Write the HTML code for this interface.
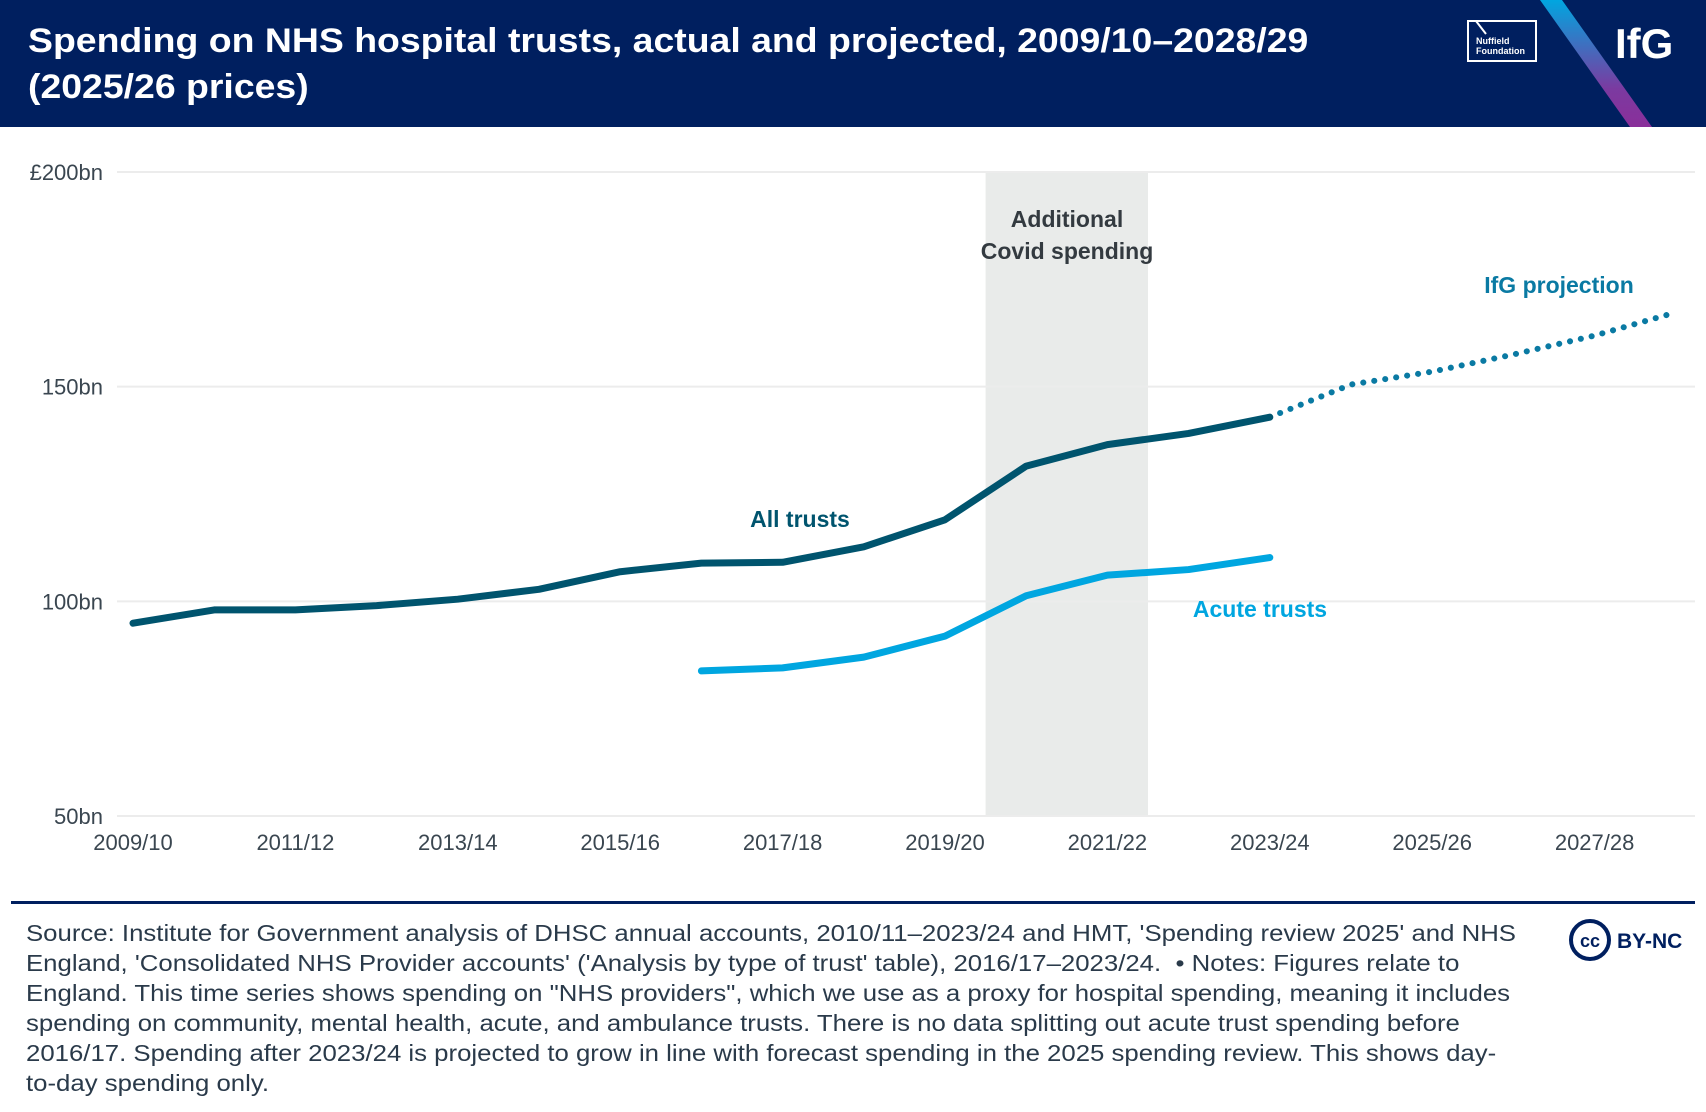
<!DOCTYPE html>
<html><head><meta charset="utf-8"><style>
body{margin:0;width:1706px;height:1112px;background:#fff;font-family:"Liberation Sans","DejaVu Sans",sans-serif;overflow:hidden;position:relative}
.hdr{position:absolute;left:0;top:0;width:1706px;height:127px;background:#001f5f;overflow:hidden}
.title{position:absolute;left:28px;top:18px;color:#fff;font-weight:bold;font-size:34px;line-height:46px;white-space:nowrap;transform:scaleX(1.1);transform-origin:0 0}
.src{position:absolute;left:26px;top:918px;font-size:23px;line-height:30px;color:#2a3a4a;white-space:nowrap;transform:scaleX(1.12);transform-origin:0 0}
</style></head><body>
<div class="hdr">
<div class="title">Spending on NHS hospital trusts, actual and projected, 2009/10–2028/29<br>(2025/26 prices)</div>
<svg width="1706" height="127" style="position:absolute;left:0;top:0">
<defs><linearGradient id="g" x1="0" y1="0" x2="0" y2="1"><stop offset="0" stop-color="#00a6e0"/><stop offset="0.7" stop-color="#7b3aa0"/><stop offset="1" stop-color="#8a2f9a"/></linearGradient></defs>
<polygon points="1540,0 1562,0 1652,127 1630,127" fill="url(#g)"/>
<rect x="1468" y="21" width="68" height="40" fill="none" stroke="#fff" stroke-width="2"/>
<polyline points="1468,21 1476,21 1486,34" fill="none" stroke="#fff" stroke-width="2"/>
<text x="1476" y="44" fill="#fff" font-size="9" font-weight="bold">Nuffield</text>
<text x="1476" y="54" fill="#fff" font-size="9" font-weight="bold">Foundation</text>
<text x="1615" y="58" fill="#fff" font-size="42" font-weight="bold">IfG</text>
</svg>
</div>
<svg id="chart" width="1706" height="900" style="position:absolute;left:0;top:0"></svg>
<div style="position:absolute;left:11px;top:901px;width:1684px;height:3px;background:#001f5f"></div>
<div class="src">Source: Institute for Government analysis of DHSC annual accounts, 2010/11–2023/24 and HMT, 'Spending review 2025' and NHS<br>England, 'Consolidated NHS Provider accounts' ('Analysis by type of trust' table), 2016/17–2023/24. &nbsp;• Notes: Figures relate to<br>England. This time series shows spending on "NHS providers", which we use as a proxy for hospital spending, meaning it includes<br>spending on community, mental health, acute, and ambulance trusts. There is no data splitting out acute trust spending before<br>2016/17. Spending after 2023/24 is projected to grow in line with forecast spending in the 2025 spending review. This shows day-<br>to-day spending only.</div>
<div style="position:absolute;left:1568px;top:918px">
<svg width="130" height="46"><circle cx="22" cy="22" r="19" fill="#fff" stroke="#001f5f" stroke-width="4"/><text x="22" y="29" text-anchor="middle" font-size="18" font-weight="bold" fill="#001f5f">cc</text><text x="49" y="30" font-size="21" font-weight="bold" fill="#001f5f">BY-NC</text></svg></div>
<script>
const years=["2009/10","2010/11","2011/12","2012/13","2013/14","2014/15","2015/16","2016/17","2017/18","2018/19","2019/20","2020/21","2021/22","2022/23","2023/24","2024/25","2025/26","2026/27","2027/28","2028/29"];
const allTrusts=[94.9,98,98,99,100.5,102.8,106.9,108.9,109.1,112.7,119,131.5,136.5,139.1,142.9];
const projection=[142.9,150.5,153.5,157.5,161.9,167.3];
const acuteTrusts=[83.8,84.5,87,91.9,101.3,106.1,107.4,110.2];
const yTicks=[50,100,150,200];
const yTickLabels=["50bn","100bn","150bn","£200bn"];
const xTickLabels=["2009/10","2011/12","2013/14","2015/16","2017/18","2019/20","2021/22","2023/24","2025/26","2027/28"];
const covidStart=11, covidEnd=13;
const NS="http://www.w3.org/2000/svg",svg=document.getElementById("chart");
const x=i=>133+i*81.2, y=v=>816-(v-50)/150*644;
function el(t,a,txt){const e=document.createElementNS(NS,t);for(const k in a)e.setAttribute(k,a[k]);if(txt!=null)e.textContent=txt;svg.appendChild(e);return e;}
let r=el("rect",{x:x(covidStart-0.5),y:y(200),width:x(covidEnd-0.5)-x(covidStart-0.5),height:y(50)-y(200),fill:"#e9ebea"});


yTicks.forEach((v,i)=>{
 let g=el("line",{x1:117,x2:1695,y1:y(v),y2:y(v),stroke:"#ececec","stroke-width":2});
 
 
 let t=el("text",{x:103,y:y(v)+8,"text-anchor":"end","font-size":22,fill:"#3a4650"},yTickLabels[i]);
 
 
});
xTickLabels.forEach(l=>{
 let t=el("text",{x:x(years.indexOf(l)),y:850,"text-anchor":"middle","font-size":22,fill:"#3a4650"},l);
 
 
});
function line(vals,off,color,name,dash){
 let p=el("polyline",{points:vals.map((v,i)=>x(i+off)+","+y(v)).join(" "),fill:"none",stroke:color,"stroke-width":dash?6:7,"stroke-linecap":"round","stroke-linejoin":"round","stroke-dasharray":dash||"none"});
 
 
}
line(projection,14,"#0a7aa3","projection-line","0.1 11");
line(allTrusts,0,"#00546e","all-trusts-line");
line(acuteTrusts,7,"#00a6e0","acute-trusts-line");
function lab(t,xx,yy,c,n){let e=el("text",{x:xx,y:yy,"text-anchor":"middle","font-size":23,"font-weight":"bold",fill:c},t);}
lab("Additional",1067,227,"#333a40","covid-label");
lab("Covid spending",1067,259,"#333a40","covid-label");
lab("All trusts",800,527,"#00546e","all-trusts-label");
lab("Acute trusts",1260,617,"#00a6e0","acute-trusts-label");
lab("IfG projection",1559,293,"#0a7aa3","projection-label");
</script>
</body></html>
